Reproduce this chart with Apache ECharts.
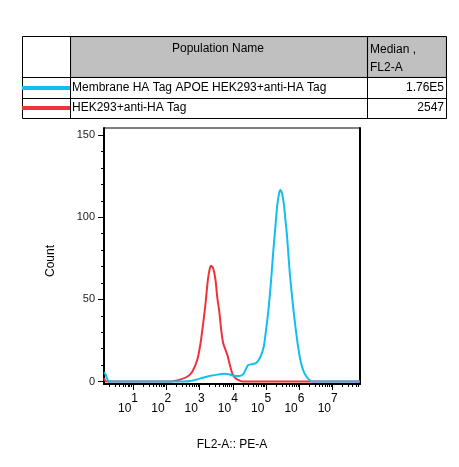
<!DOCTYPE html>
<html lang="en">
<head>
    <meta charset="UTF-8">
    <title>FL2-A histogram</title>
    <script type="text/javascript" src="https://cdn.jsdelivr.net/npm/echarts@6/dist/echarts.min.js"></script>
    <style>
        html, body { margin: 0; padding: 0; background: #fff; }
        #chart1 { width: 459px; height: 467px; }
    </style>
</head>
<body>
    <div id="chart1"></div>
</body>
<script type="text/javascript">
    // 群体名称 + 中位数
    var popNames = ['Membrane HA Tag APOE HEK293+anti-HA Tag', 'HEK293+anti-HA Tag'];
    var medians = ['1.76E5', '2547'];
    var popColors = ['#12bdef', '#f03338'];

    // x 轴: log10 值 (10^n)
    var decades = [1, 2, 3, 4, 5, 6, 7];
    var countTicks = [0, 50, 100, 150];
    var countMinor = [10, 20, 30, 40, 60, 70, 80, 90, 110, 120, 130, 140];

    // HEK293+anti-HA Tag
    var redX = [0.13, 0.20, 2.13, 2.43, 2.63, 2.78, 2.93, 3.03, 3.11, 3.18, 3.25, 3.31, 3.35, 3.41, 3.48, 3.53, 3.60, 3.65, 3.71, 3.78, 3.85, 3.91, 3.98, 4.08, 4.28, 7.82];
    var redY = [2, 0, 0, 1.3, 2.9, 6, 13.1, 23.3, 35.5, 47.6, 61.8, 68.9, 70.4, 68.9, 61.8, 51.7, 41.5, 31.4, 23.3, 19.3, 15.2, 10.1, 5.1, 2, 0, 0];

    // Membrane HA Tag APOE HEK293+anti-HA Tag
    var blueX = [0.13, 0.17, 0.22, 0.27, 2.52, 2.73, 2.93, 3.13, 3.33, 3.53, 3.73, 3.88, 4.03, 4.18, 4.31, 4.38, 4.46, 4.58, 4.71, 4.83, 4.93, 5.01, 5.08, 5.15, 5.21, 5.27, 5.33, 5.39, 5.43, 5.48, 5.53, 5.58, 5.63, 5.68, 5.73, 5.81, 5.88, 5.96, 6.05, 6.15, 6.28, 6.41, 7.82];
    var blueY = [5.6, 4.6, 2, 0, 0, 0.3, 1.3, 2.5, 3.5, 4.2, 4.8, 4.4, 3.5, 3.3, 4.4, 7, 10, 10.6, 11.5, 15.1, 21.3, 33.4, 45.6, 61.8, 78, 92.2, 106.4, 114.5, 116.5, 114.5, 108.4, 98.3, 88.2, 74, 61.8, 45.6, 33.4, 21.3, 11.1, 5.1, 1.3, 0, 0];

    function zip(xs, ys) {
        return xs.map(function (x, i) { return [x, ys[i]]; });
    }

    // 次刻度 2..9 x 10^n
    var minorX = [];
    for (var n = 0; n < 8; n++) {
        for (var k = 2; k < 10; k++) {
            var v = n + Math.log10(k);
            if (v > 0.13 && v < 7.82) minorX.push(v);
        }
    }

    var font = "'Liberation Sans', Arial, sans-serif";
    var xMin = 0.13, xMax = 7.82, yMin = -1.5, yMax = 154.3;

    // 表格 (图例)
    var table = [
        { type: 'rect', shape: { x: 71, y: 37, width: 296, height: 40 }, style: { fill: '#c0c0c0', stroke: '#a8a8a8', lineWidth: 1 } },
        { type: 'rect', shape: { x: 368, y: 37, width: 78, height: 40 }, style: { fill: '#c0c0c0', stroke: '#a8a8a8', lineWidth: 1 } },
        { type: 'rect', shape: { x: 22.5, y: 36.5, width: 424, height: 82 }, style: { fill: 'none', stroke: '#000', lineWidth: 1 } },
        { type: 'line', shape: { x1: 70.5, y1: 36, x2: 70.5, y2: 119 }, style: { stroke: '#000', lineWidth: 1 } },
        { type: 'line', shape: { x1: 367.5, y1: 36, x2: 367.5, y2: 119 }, style: { stroke: '#000', lineWidth: 1 } },
        { type: 'line', shape: { x1: 22, y1: 77.5, x2: 447, y2: 77.5 }, style: { stroke: '#000', lineWidth: 1 } },
        { type: 'line', shape: { x1: 22, y1: 98.5, x2: 447, y2: 98.5 }, style: { stroke: '#000', lineWidth: 1 } },
        { type: 'text', x: 218, y: 49, style: { text: 'Population Name', font: '12px ' + font, fill: '#000', align: 'center', verticalAlign: 'middle' } },
        { type: 'text', x: 370, y: 50, style: { text: 'Median ,', font: '12px ' + font, fill: '#000', align: 'left', verticalAlign: 'middle' } },
        { type: 'text', x: 370, y: 68, style: { text: 'FL2-A', font: '12px ' + font, fill: '#000', align: 'left', verticalAlign: 'middle' } }
    ];
    popNames.forEach(function (name, i) {
        var cy = 88 + i * 20;
        table.push({ type: 'line', shape: { x1: 22, y1: cy, x2: 70, y2: cy }, style: { stroke: popColors[i], lineWidth: 4 } });
        table.push({ type: 'text', x: 72, y: cy, style: { text: name, font: '12px ' + font, fill: '#000', align: 'left', verticalAlign: 'middle' } });
        table.push({ type: 'text', x: 444, y: cy, style: { text: medians[i], font: '12px ' + font, fill: '#000', align: 'right', verticalAlign: 'middle' } });
    });

    var histChart = echarts.init(document.getElementById('chart1'));
    var option = {
        animation: false,
        backgroundColor: '#fff',
        textStyle: { fontFamily: font },
        grid: {
            left: 104, top: 128, right: 99, bottom: 83,
            show: true, borderColor: '#000', borderWidth: 1, backgroundColor: 'transparent'
        },
        graphic: table,
        xAxis: [
            {
                type: 'value', min: xMin, max: xMax, position: 'bottom',
                name: 'FL2-A:: PE-A', nameLocation: 'middle', nameGap: 55,
                nameTextStyle: { fontSize: 12, color: '#000', fontFamily: font },
                axisLine: { show: true, onZero: false, lineStyle: { color: '#000', width: 2 } },
                axisTick: { show: true, customValues: decades, length: 6, lineStyle: { color: '#000', width: 1 } },
                axisLabel: {
                    show: true, customValues: decades, margin: 9, color: '#000',
                    formatter: function (v) { return '{b|10}{s|' + v + '}'; },
                    rich: {
                        b: { fontSize: 12, lineHeight: 22, verticalAlign: 'bottom', fontFamily: font, color: '#000' },
                        s: { fontSize: 12, lineHeight: 12, verticalAlign: 'top', fontFamily: font, color: '#000', padding: [0, 10, 0, 0] }
                    }
                },
                splitLine: { show: false }
            },
            {
                type: 'value', min: xMin, max: xMax, position: 'bottom',
                axisLine: { show: false, onZero: false },
                axisTick: { show: true, customValues: minorX, length: 3, lineStyle: { color: '#000', width: 1 } },
                axisLabel: { show: false },
                splitLine: { show: false }
            }
        ],
        yAxis: [
            {
                type: 'value', min: yMin, max: yMax, position: 'left',
                name: 'Count', nameLocation: 'middle', nameGap: 47, nameRotate: 90,
                nameTextStyle: { fontSize: 12, color: '#000', fontFamily: font, padding: [0, 10, 0, 0] },
                axisLine: { show: true, onZero: false, lineStyle: { color: '#000', width: 2 } },
                axisTick: { show: true, customValues: countTicks, length: 6, lineStyle: { color: '#000', width: 1 } },
                axisLabel: { show: true, customValues: countTicks, margin: 9, fontSize: 11, color: '#222', fontFamily: font },
                splitLine: { show: false }
            },
            {
                type: 'value', min: yMin, max: yMax, position: 'left',
                axisLine: { show: false, onZero: false },
                axisTick: { show: true, customValues: countMinor, length: 3, lineStyle: { color: '#000', width: 1 } },
                axisLabel: { show: false },
                splitLine: { show: false }
            },
            {
                type: 'value', min: yMin, max: yMax, position: 'right',
                axisLine: { show: true, onZero: false, lineStyle: { color: '#000', width: 2 } },
                axisTick: { show: false },
                axisLabel: { show: false },
                splitLine: { show: false }
            }
        ],
        series: [
            {
                name: popNames[1], type: 'line', data: zip(redX, redY),
                showSymbol: false, smooth: 0.2, clip: true,
                lineStyle: { color: popColors[1], width: 2 }
            },
            {
                name: popNames[0], type: 'line', data: zip(blueX, blueY),
                showSymbol: false, smooth: 0.2, clip: true,
                lineStyle: { color: popColors[0], width: 2 }
            }
        ]
    };
    histChart.setOption(option);
</script>
</html>
